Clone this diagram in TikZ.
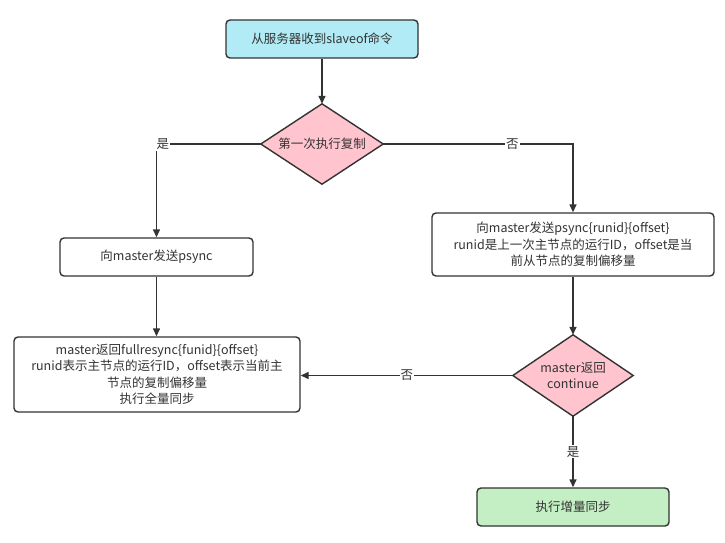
\documentclass[tikz,border=0pt]{standalone}
\usepackage{fontspec}
\setmainfont{Noto Sans CJK SC}
\usetikzlibrary{arrows.meta}
\definecolor{lc}{HTML}{333333}
\definecolor{cyanf}{HTML}{B1EBF5}
\definecolor{pinkf}{HTML}{FFC4CE}
\definecolor{greenf}{HTML}{C4EEC4}
\tikzset{
  box/.style={draw=lc, line width=1.4pt, rounded corners=4pt, align=center, inner sep=0pt, text=lc},
  diahold/.style={inner sep=0pt, align=center, text=lc},
  dia/.style={draw=lc, line width=1.4pt, fill=pinkf, line join=miter},
  conn/.style={draw=lc, line width=1.4pt, -{Triangle[length=8pt,width=7pt]}},
  lbl/.style={fill=white, inner sep=1pt, text=lc}
}
\begin{document}
\begin{tikzpicture}[x=1pt,y=-1pt, font=\fontsize{12.5}{16.5}\selectfont]
\useasboundingbox (0,0) rectangle (725,543);
\fill[white] (0,0) rectangle (725,543);
% nodes
\node[box, fill=cyanf, minimum width=192pt, minimum height=38pt] (start) at (322,39) {从服务器收到slaveof命令};
\node[diahold, minimum width=122pt, minimum height=80pt] (d1) at (322,144) {};
\draw[dia] (d1.north) -- (d1.east) -- (d1.south) -- (d1.west) -- cycle;
\node[diahold] at (d1.center) {第一次执行复制};
\node[box, fill=white, minimum width=193pt, minimum height=38pt] (lb) at (156.5,257) {向master发送psync};
\node[box, fill=white, minimum width=282pt, minimum height=63pt] (rb) at (573,244.5) {向master发送psync\{runid\}\{offset\}\\runid是上一次主节点的运行ID，offset是当\\前从节点的复制偏移量};
\node[box, fill=white, minimum width=286pt, minimum height=75pt] (full) at (157,374.5) {master返回fullresync\{funid\}\{offset\}\\runid表示主节点的运行ID，offset表示当前主\\节点的复制偏移量\\执行全量同步};
\node[diahold, minimum width=120pt, minimum height=81pt] (d2) at (573,375.5) {};
\draw[dia] (d2.north) -- (d2.east) -- (d2.south) -- (d2.west) -- cycle;
\node[diahold] at (d2.center) {master返回\\continue};
\node[box, fill=greenf, minimum width=192pt, minimum height=38pt] (inc) at (573,507) {执行增量同步};
% connectors
\draw[conn] (start.south) -- (d1.north);
\draw[conn] (d1.west) -| node[lbl, pos=0.47] {是} (lb.north);
\draw[conn] (d1.east) -| node[lbl, pos=0.34] {否} (rb.north);
\draw[conn] (lb.south) -- (full.north -| lb.south);
\draw[conn] (rb.south) -- (d2.north);
\draw[conn] (d2.west) -- node[lbl, pos=0.5] {否} (full.east |- d2.west);
\draw[conn] (d2.south) -- node[lbl, pos=0.5] {是} (inc.north);
\end{tikzpicture}
\end{document}
